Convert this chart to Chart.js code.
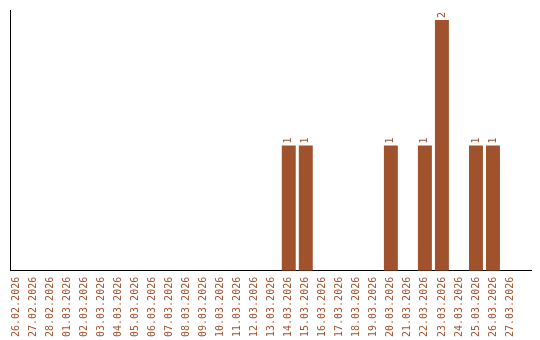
<!DOCTYPE html>
<html>
<head>
<meta charset="utf-8">
<script src="https://cdn.jsdelivr.net/npm/chart.js@4"></script>
<style>
html,body{margin:0;padding:0;background:#fff;}
#wrap{width:540px;height:340px;position:relative;}
</style>
</head>
<body>
<div id="wrap"><canvas id="c" width="540" height="340"></canvas></div>
<script>
const dates = ["26.02.2026","27.02.2026","28.02.2026","01.03.2026","02.03.2026","03.03.2026","04.03.2026","05.03.2026","06.03.2026","07.03.2026","08.03.2026","09.03.2026","10.03.2026","11.03.2026","12.03.2026","13.03.2026","14.03.2026","15.03.2026","16.03.2026","17.03.2026","18.03.2026","19.03.2026","20.03.2026","21.03.2026","22.03.2026","23.03.2026","24.03.2026","25.03.2026","26.03.2026","27.03.2026"];
const counts = [0,0,0,0,0,0,0,0,0,0,0,0,0,0,0,0,1,1,0,0,0,0,1,0,1,2,0,1,1,0];

const COLOR = '#A0522D';
const points = dates.map((d, i) => ({x: i, y: counts[i]}));

const valueLabels = {
  id: 'valueLabels',
  afterDatasetsDraw(chart) {
    const ctx = chart.ctx;
    const meta = chart.getDatasetMeta(0);
    ctx.save();
    ctx.fillStyle = COLOR;
    ctx.font = '10px "DejaVu Sans Mono", monospace';
    ctx.textAlign = 'left';
    ctx.textBaseline = 'middle';
    meta.data.forEach((bar, i) => {
      const v = counts[i];
      if (!v) return;
      ctx.save();
      ctx.translate(bar.x, bar.y - 2);
      ctx.rotate(-Math.PI / 2);
      ctx.fillText(String(v), 0, 0);
      ctx.restore();
    });
    ctx.restore();
  }
};

new Chart(document.getElementById('c'), {
  type: 'bar',
  data: {
    datasets: [{
      data: points,
      backgroundColor: COLOR,
      borderWidth: 0,
      barPercentage: 1,
      categoryPercentage: 0.82
    }]
  },
  options: {
    responsive: false,
    animation: false,
    devicePixelRatio: 1,
    layout: {padding: {left: 10, top: 10, right: 9, bottom: -3}},
    plugins: {legend: {display: false}, tooltip: {enabled: false}},
    scales: {
      x: {
        type: 'linear',
        offset: false,
        min: -0.382,
        max: 30.235,
        afterBuildTicks: (scale) => { scale.ticks = dates.map((d, i) => ({value: i})); },
        grid: {display: false, drawTicks: false},
        border: {display: true, color: '#000', width: 1},
        ticks: {
          autoSkip: false,
          maxRotation: 90,
          minRotation: 90,
          padding: 6,
          color: COLOR,
          font: {family: '"DejaVu Sans Mono", monospace', size: 10},
          callback: (v) => dates[v] !== undefined ? dates[v] : ''
        }
      },
      y: {
        min: 0,
        max: 2.08,
        grid: {display: false, drawTicks: false},
        border: {display: true, color: '#000', width: 1},
        ticks: {display: false}
      }
    }
  },
  plugins: [valueLabels]
});
</script>
</body>
</html>
